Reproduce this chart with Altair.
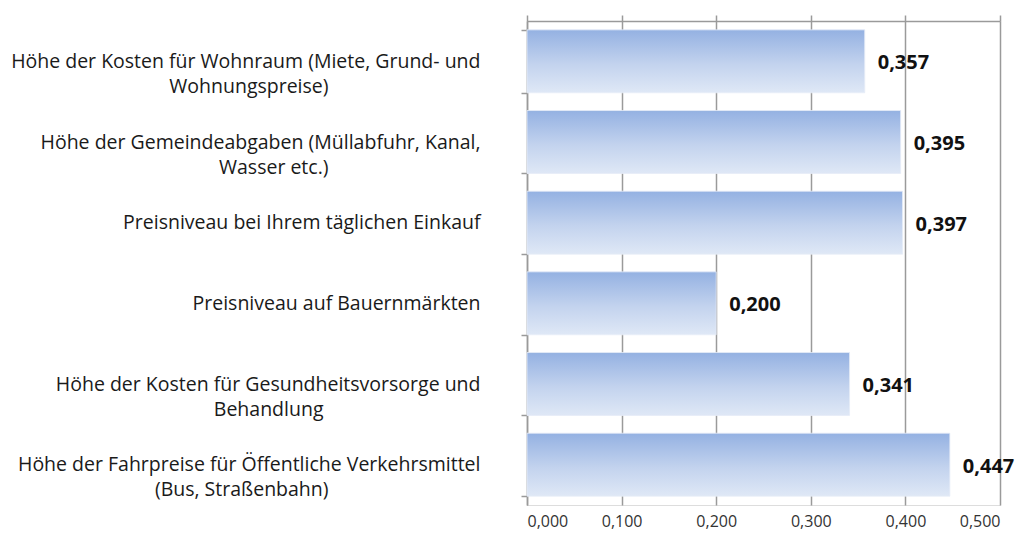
import altair as alt
import pandas as pd

categories = [
    "Höhe der Kosten für Wohnraum (Miete, Grund- und|Wohnungspreise)",
    "Höhe der Gemeindeabgaben (Müllabfuhr, Kanal,|Wasser etc.)",
    "Preisniveau bei Ihrem täglichen Einkauf",
    "Preisniveau auf Bauernmärkten",
    "Höhe der Kosten für Gesundheitsvorsorge und|Behandlung",
    "Höhe der Fahrpreise für Öffentliche Verkehrsmittel|(Bus, Straßenbahn)",
]
values = [0.357, 0.395, 0.397, 0.200, 0.341, 0.447]
x_ticks = [0.0, 0.1, 0.2, 0.3, 0.4, 0.5]

df = pd.DataFrame({"cat": categories, "val": values})

FONT = "Open Sans"
GRID = "#9a9a9a"
NBSP = "\u00a0"
ZWSP = "\u200b"

# two-line labels: second line visually centred under the first one
l1 = "split(datum.label, '|')[0]"
l2 = "split(datum.label, '|')[1]"
label_expr = (
    "length(split(datum.label, '|')) > 1 ? "
    f"[{l1}, pad({l2}, length({l2}) + round((length({l1}) - length({l2})) * 0.94), '{NBSP}') + '{ZWSP}'] "
    ": datum.label"
)

gradient = alt.LinearGradient(
    gradient="linear",
    stops=[
        alt.GradientStop(color="#94b1e2", offset=0),
        alt.GradientStop(color="#c3d3ee", offset=0.55),
        alt.GradientStop(color="#dfe8f6", offset=1),
    ],
    x1=0, x2=0, y1=0, y2=1,
)

xscale = alt.Scale(domain=[0, 0.5], nice=False, zero=True)
ysort = categories

base = alt.Chart(df)

bars = base.mark_bar(color=gradient, stroke="#e6ecf7", strokeWidth=0.8).encode(
    x=alt.X(
        "val:Q",
        scale=xscale,
        axis=alt.Axis(
            orient="top",
            values=x_ticks,
            labels=False,
            title=None,
            grid=True,
            gridColor=GRID,
            gridWidth=1.5,
            domain=True,
            domainColor=GRID,
            domainWidth=1.5,
            ticks=True,
            tickColor=GRID,
            tickWidth=1.5,
            tickSize=6,
        ),
    ),
    y=alt.Y(
        "cat:N",
        sort=ysort,
        scale=alt.Scale(paddingInner=0.22, paddingOuter=0.11),
        axis=alt.Axis(
            title=None,
            labelExpr=label_expr,
            labelFont=FONT,
            labelFontSize=19.5,
            labelColor="#1a1a1a",
            labelLimit=700,
            labelPadding=41,
            labelLineHeight=25,
            domain=True,
            domainColor=GRID,
            domainWidth=1.5,
            ticks=True,
            tickBand="extent",
            tickColor=GRID,
            tickWidth=1.5,
            tickSize=6,
            grid=False,
        ),
    ),
)

bottom_axis = base.mark_bar(opacity=0).encode(
    x=alt.X(
        "val:Q",
        scale=xscale,
        axis=alt.Axis(
            orient="bottom",
            values=x_ticks,
            labelExpr="replace(format(datum.value, '.3f'), '.', ',')",
            labelFont=FONT,
            labelFontSize=16,
            labelColor="#333333",
            labelPadding=8,
            title=None,
            grid=False,
            domain=False,
            ticks=False,
        ),
    ),
    y=alt.Y("cat:N", sort=ysort),
)

text = base.transform_calculate(
    lab="replace(format(datum.val, '.3f'), '.', ',')"
).mark_text(
    align="left", baseline="middle", dx=13, dy=2,
    font=FONT, fontSize=20, fontWeight="bold", color="#111111",
).encode(
    x=alt.X("val:Q", scale=xscale, axis=None),
    y=alt.Y("cat:N", sort=ysort),
    text="lab:N",
)

chart = (
    alt.layer(bars, bottom_axis, text)
    .resolve_axis(x="independent")
    .properties(
        width=473,
        height=484,
        autosize=alt.AutoSizeParams(type="none"),
        padding={"left": 519, "top": 13, "right": 17, "bottom": 30},
    )
    .configure_view(stroke=None)
    .configure(background="white")
)

chart.save("out.html", embed_options={"renderer": "svg", "actions": False})
